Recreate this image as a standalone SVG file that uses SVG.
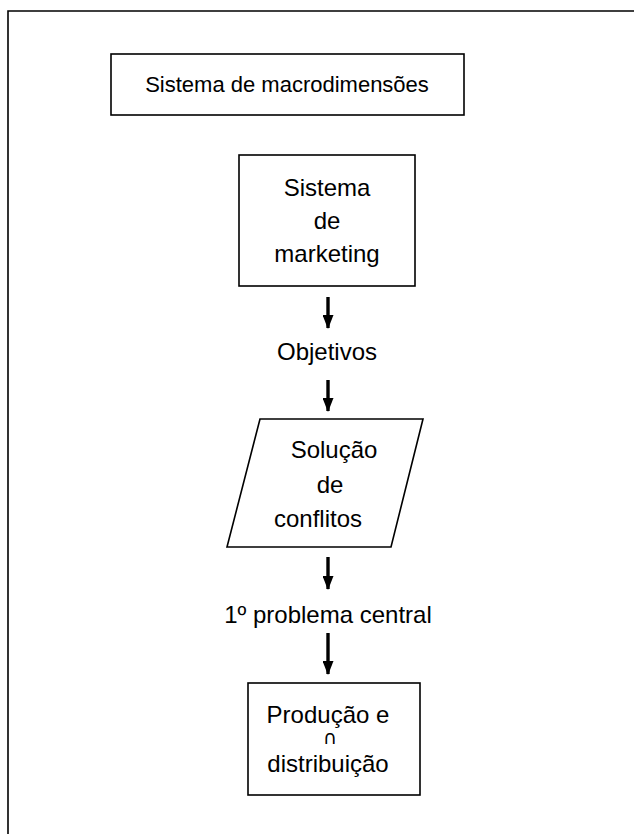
<svg xmlns="http://www.w3.org/2000/svg" width="634" height="834" viewBox="0 0 634 834">
<defs>
<marker id="ah" viewBox="0 0 14 11" refX="13" refY="5.5" markerWidth="14" markerHeight="11" markerUnits="userSpaceOnUse" orient="auto">
<path d="M0,0 L14,5.5 L0,11 Z" fill="#000"/>
</marker>
<style>
.box{fill:#fff;stroke:#000;stroke-width:1.6}
.t{font-family:"Liberation Sans",Arial,sans-serif;font-size:24px;fill:#000;text-anchor:middle}
.conn{stroke:#000;stroke-width:3.4;fill:none}
.frame{stroke:#000;stroke-width:1.6;fill:none}
</style>
</defs>
<rect width="634" height="834" fill="#fff"/>
<path class="frame" d="M8,834 L8,11 L634,11"/>
<g id="title">
<rect class="box" x="111" y="54" width="353" height="61"/>
<text class="t" x="287" y="92" style="font-size:22px">Sistema de macrodimensões</text>
</g>
<g id="marketing">
<rect class="box" x="239" y="155" width="176" height="131"/>
<text class="t" x="327" y="196">Sistema</text>
<text class="t" x="327" y="229">de</text>
<text class="t" x="327" y="262">marketing</text>
</g>
<g id="objetivos">
<text class="t" x="327" y="360">Objetivos</text>
</g>
<g id="solucao">
<polygon class="box" points="260,419 423,419 391,547 227,547"/>
<text class="t" x="334" y="458">Solução</text>
<text class="t" x="330" y="493">de</text>
<text class="t" x="318" y="527">conflitos</text>
</g>
<g id="problema">
<text class="t" x="328" y="623">1º problema central</text>
</g>
<g id="producao">
<rect class="box" x="248" y="683" width="172" height="112"/>
<text class="t" x="328" y="723">Produção e</text>
<text class="t" x="330" y="744" style="font-family:'DejaVu Sans',sans-serif;font-size:19px">∩</text>
<text class="t" x="328" y="772">distribuição</text>
</g>
<g id="connectors">
<line class="conn" x1="328" y1="297" x2="328" y2="328" marker-end="url(#ah)"/>
<line class="conn" x1="328" y1="380" x2="328" y2="411" marker-end="url(#ah)"/>
<line class="conn" x1="328" y1="557" x2="328" y2="589" marker-end="url(#ah)"/>
<line class="conn" x1="328" y1="633" x2="328" y2="674" marker-end="url(#ah)"/>
</g>
</svg>
